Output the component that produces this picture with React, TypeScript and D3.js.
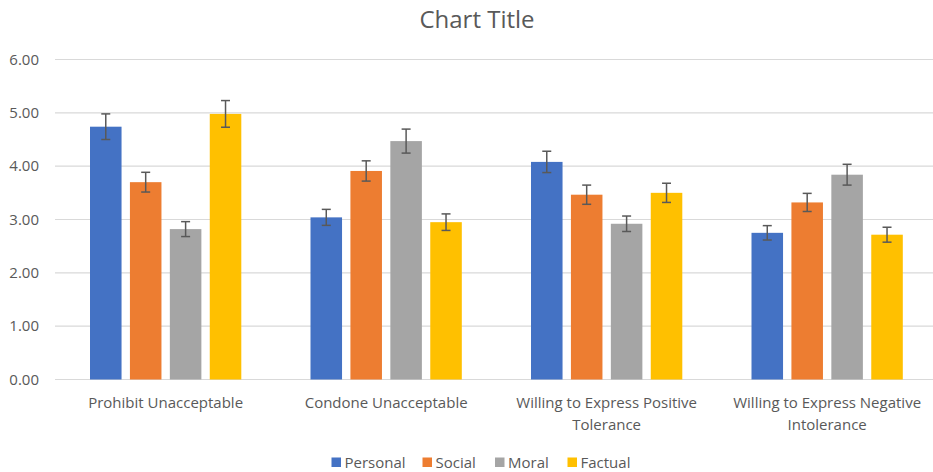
import React from "react";
import * as d3 from "d3";

const categories = [
  "Prohibit Unacceptable",
  "Condone Unacceptable",
  "Willing to Express Positive Tolerance",
  "Willing to Express Negative Intolerance",
];
const seriesNames = ["Personal", "Social", "Moral", "Factual"];
const seriesColors = ["#4472C4", "#ED7D31", "#A5A5A5", "#FFC000"];
const personal = [4.74, 3.04, 4.08, 2.75];
const social = [3.7, 3.91, 3.465, 3.32];
const moral = [2.82, 4.47, 2.92, 3.84];
const factual = [4.98, 2.95, 3.5, 2.715];
const personalErr = [0.24, 0.15, 0.2, 0.135];
const socialErr = [0.185, 0.19, 0.18, 0.17];
const moralErr = [0.14, 0.225, 0.145, 0.195];
const factualErr = [0.25, 0.155, 0.18, 0.14];
const yTicks = [0, 1, 2, 3, 4, 5, 6];

const values = [personal, social, moral, factual];
const errors = [personalErr, socialErr, moralErr, factualErr];

const FONT = "'Open Sans', 'Noto Sans', sans-serif";

function wrap(label: string): string[] {
  if (label.length <= 24) return [label];
  const words = label.split(" ");
  const last = words.pop() as string;
  return [words.join(" "), last];
}

export default function App() {
  const W = 933;
  const H = 472;
  const x0 = d3.scaleBand<string>().domain(categories).range([55.4, 937.4]);
  const x1 = d3
    .scaleBand<string>()
    .domain(seriesNames)
    .range([34.6, 185.9])
    .paddingInner(0.21);
  const y = d3.scaleLinear().domain([0, 6]).range([379.5, 59.5]);

  const legendTextX = [344.5, 435.5, 508, 580.5];

  return (
    <svg
      width={W}
      height={H}
      style={{ position: "absolute", left: 0, top: 0, background: "#fff" }}
      fontFamily={FONT}
    >
      <rect x={0} y={0} width={W} height={H} fill="#fff" />
      <text x={477} y={27.5} textAnchor="middle" fontSize={24} fill="#595959">
        Chart Title
      </text>
      {yTicks.map((t) => (
        <g key={t}>
          <line
            x1={55}
            x2={W}
            y1={y(t)}
            y2={y(t)}
            stroke="#D9D9D9"
            strokeWidth={1.2}
          />
          <text
            x={39}
            y={y(t) + 5}
            textAnchor="end"
            fontSize={15}
            fill="#595959"
          >
            {t.toFixed(2)}
          </text>
        </g>
      ))}
      {categories.map((c, ci) => (
        <g key={c} transform={`translate(${x0(c)},0)`}>
          {seriesNames.map((s, si) => {
            const v = values[si][ci];
            const e = errors[si][ci];
            const bx = x1(s) as number;
            const bw = x1.bandwidth();
            const cx = bx + bw / 2;
            return (
              <g key={s}>
                <rect
                  x={bx}
                  y={y(v)}
                  width={bw}
                  height={y(0) - y(v)}
                  fill={seriesColors[si]}
                />
                <line
                  x1={cx}
                  x2={cx}
                  y1={y(v + e)}
                  y2={y(v - e)}
                  stroke="#595959"
                  strokeWidth={1.5}
                />
                <line
                  x1={cx - 4.5}
                  x2={cx + 4.5}
                  y1={y(v + e)}
                  y2={y(v + e)}
                  stroke="#595959"
                  strokeWidth={1.5}
                />
                <line
                  x1={cx - 4.5}
                  x2={cx + 4.5}
                  y1={y(v - e)}
                  y2={y(v - e)}
                  stroke="#595959"
                  strokeWidth={1.5}
                />
              </g>
            );
          })}
          <text
            x={(x1.range()[0] + x1.range()[1]) / 2}
            y={407.5}
            textAnchor="middle"
            fontSize={15}
            fill="#595959"
          >
            {wrap(c).map((line, li) => (
              <tspan
                key={li}
                x={(x1.range()[0] + x1.range()[1]) / 2}
                dy={li === 0 ? 0 : 22}
              >
                {line}
              </tspan>
            ))}
          </text>
        </g>
      ))}
      {seriesNames.map((s, si) => (
        <g key={s}>
          <rect
            x={legendTextX[si] - 13}
            y={457.5}
            width={9.5}
            height={9.5}
            fill={seriesColors[si]}
          />
          <text x={legendTextX[si]} y={468} fontSize={15} fill="#595959">
            {s}
          </text>
        </g>
      ))}
    </svg>
  );
}
